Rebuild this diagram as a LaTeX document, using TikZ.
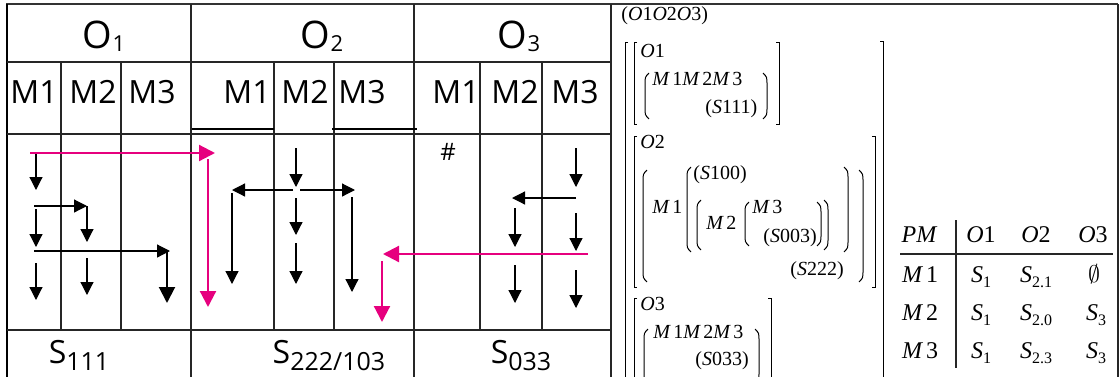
\documentclass[tikz,border=0pt]{standalone}
\usepackage{fontspec}
\usepackage{graphicx}
\usepackage{tikz}
\usetikzlibrary{arrows.meta}
\setmainfont{Liberation Serif}
\newfontfamily\osans{Open Sans}
\definecolor{pinkline}{RGB}{230,0,126}
\newcommand{\lowsub}[3]{\raisebox{#1}{\fontsize{#2}{#2}\selectfont #3}}
\newcommand{\vi}[1]{{\rmfamily\itshape #1}}
\newcommand{\lbrk}[3]{\draw[brk] ({#1+3},#2) -- (#1,#2) -- (#1,#3) -- ({#1+3},#3);}
\newcommand{\rbrk}[3]{\draw[brk] ({#1-3},#2) -- (#1,#2) -- (#1,#3) -- ({#1-3},#3);}
\newcommand{\lpar}[3]{\draw[brk] ({#1+4},#2) .. controls (#1,{#2+4}) .. (#1,{#2+12}) -- (#1,{#3-12}) .. controls (#1,{#3-4}) .. ({#1+4},#3);}
\newcommand{\rpar}[3]{\draw[brk] ({#1-4},#2) .. controls (#1,{#2+4}) .. (#1,{#2+12}) -- (#1,{#3-12}) .. controls (#1,{#3-4}) .. ({#1-4},#3);}
\tikzstyle{tabline} = [line width=0.6pt, black!85]
\tikzstyle{thickline} = [line width=1.4pt, black!80]
\tikzstyle{brk} = [line width=0.5pt]
\tikzstyle{blk} = [line width=0.6pt, -{Triangle[length=6.5pt,width=6.5pt]}]
\tikzstyle{blkbig} = [line width=1pt, -{Triangle[length=8pt,width=8pt]}]
\tikzstyle{mag} = [pinkline, line width=1.1pt, -{Triangle[length=8pt,width=8pt]}]
\tikzstyle{head} = [font=\osans\fontsize{19}{21}\selectfont, inner sep=0pt, anchor=base]
\tikzstyle{mlbl} = [font=\osans\fontsize{16}{18}\selectfont, inner sep=0pt, anchor=base]
\tikzstyle{mtx} = [font=\rmfamily\fontsize{10}{12}\selectfont, inner sep=0pt, anchor=base west]
\tikzstyle{pm} = [font=\rmfamily\fontsize{12}{14}\selectfont, inner sep=0pt, anchor=base]

\begin{document}
\begin{tikzpicture}[x=0.5pt,y=-0.5pt]
\useasboundingbox (0,0) rectangle (1120,376);
% frame
\draw[thickline] (6,4) -- (1118,4);
\draw[line width=1pt] (7,4) -- (7,380);
\draw[tabline] (1118,4) -- (1118,380);
\draw[tabline] (7,62) -- (611,62);
\draw[tabline] (7,134) -- (611,134);
\draw[tabline] (7,330) -- (611,330);
\foreach \cx in {191,414,611}
  \draw[tabline] (\cx,4) -- (\cx,380);
\foreach \cx in {61,121,274,334,480,542}
  \draw[tabline] (\cx,62) -- (\cx,330);
\draw[line width=1.2pt] (192,129) -- (274,129);
\draw[line width=1.2pt] (332,129) -- (417,129);
% headers
\node[head] (o1) at (104,48) {O\lowsub{-1.5pt}{11}{1}};
\node[head] (o2) at (322,48) {O\lowsub{-1.5pt}{11}{2}};
\node[head] (o3) at (519,48) {O\lowsub{-1.5pt}{11}{3}};
\node[mlbl] (a1) at (34,103) {M1};
\node[mlbl] (a2) at (93,103) {M2};
\node[mlbl] (a3) at (152,103) {M3};
\node[mlbl] (b1) at (247,103) {M1};
\node[mlbl] (b2) at (305,103) {M2};
\node[mlbl] (b3) at (362,103) {M3};
\node[mlbl] (c1) at (456,103) {M1};
\node[mlbl] (c2) at (515,103) {M2};
\node[mlbl] (c3) at (575,103) {M3};
\node[mlbl] (s1) at (79,363) {S\lowsub{-3.5pt}{12.5}{111}};
\node[mlbl] (s2) at (329,363) {S\lowsub{-3.5pt}{12.5}{222/103}};
\node[mlbl] (s3) at (521,363) {S\lowsub{-3.5pt}{12.5}{033}};
\node[font=\osans\fontsize{12}{14}\selectfont, inner sep=0pt] (hash) at (448,152) {\#};
% arrows O1
\draw[blk] (36,153) -- (36,190);
\draw[blk] (34,206) -- (87,206);
\draw[blk] (87,206) -- (87,242);
\draw[blk] (36,209) -- (36,247);
\draw[blk] (34,251) -- (170,251);
\draw[blkbig] (167,251) -- (167,303);
\draw[blk] (36,263) -- (36,300);
\draw[blk] (87,258) -- (87,295);
% arrows O2
\draw[blk] (296,148) -- (296,187);
\draw[blk] (293,190) -- (232,190);
\draw[blk] (300,190) -- (355,190);
\draw[blk] (232,193) -- (232,284);
\draw[blk] (352,197) -- (352,292);
\draw[blk] (296,198) -- (296,235);
\draw[blk] (296,243) -- (296,284);
% arrows O3
\draw[blk] (576,148) -- (576,187);
\draw[blk] (576,198) -- (512,198);
\draw[blk] (515,208) -- (515,247);
\draw[blk] (576,213) -- (576,251);
\draw[blk] (515,265) -- (515,303);
\draw[blk] (576,270) -- (576,308);
% magenta paths
\draw[mag] (30,153) -- (215,153);
\draw[mag] (208,159) -- (208,307);
\draw[mag] (588,254) -- (383,254);
\draw[mag] (382,261) -- (382,322);
% nested matrix
\node[mtx] (top) at (621,20) {(\vi{O}1\vi{O}2\vi{O}3)};
\lbrk{625}{42}{380} \rbrk{883}{41}{380}
\lbrk{634}{42}{124} \rbrk{779}{42}{124}
\lpar{645}{73}{119} \rpar{767}{73}{119}
\node[mtx] (mo1) at (640,57) {\vi{O}1};
\node[mtx] (mm1) at (652,85) {\vi{M}\,1\vi{M}\,2\vi{M}\,3};
\node[mtx] (ms1) at (705,113) {(\vi{S}111)};
\lbrk{634}{136}{287} \rbrk{875}{136}{287}
\lpar{643}{170}{282} \rpar{863}{170}{282}
\lpar{687}{167}{252} \rpar{848}{167}{252}
\lpar{697}{200}{250} \rpar{828}{200}{250}
\lpar{745}{202}{246} \rpar{821}{202}{246}
\node[mtx] (mo2) at (640,148) {\vi{O}2};
\node[mtx] (ms100) at (693,179) {(\vi{S}100)};
\node[mtx] (mx1) at (652,213) {\vi{M}\,1};
\node[mtx] (mx2) at (706,229) {\vi{M}\,2};
\node[mtx] (mx3) at (752,213) {\vi{M}\,3};
\node[mtx] (ms003) at (763,242) {(\vi{S}003)};
\node[mtx] (ms222) at (790,275) {(\vi{S}222)};
\lbrk{634}{298}{380} \rbrk{771}{298}{380}
\lpar{644}{329}{384} \rpar{759}{329}{384}
\node[mtx] (mo3) at (640,310) {\vi{O}3};
\node[mtx] (mm3) at (653,338) {\vi{M}\,1\vi{M}\,2\vi{M}\,3};
\node[mtx] (ms033) at (695,365) {(\vi{S}033)};
% PM table
\draw[tabline] (900,254) -- (1113,254);
\draw[tabline] (956,220) -- (956,368);
\node[pm] (pmh) at (919,242) {\vi{PM}};
\node[pm] (ph1) at (981,242) {\vi{O}1};
\node[pm] (ph2) at (1036,242) {\vi{O}2};
\node[pm] (ph3) at (1093,242) {\vi{O}3};
\node[pm] (r1) at (920,282) {\vi{M}\,1};
\node[pm] (r2) at (920,320) {\vi{M}\,2};
\node[pm] (r3) at (920,358) {\vi{M}\,3};
\node[pm] (p11) at (981,282) {\vi{S}\lowsub{-2.5pt}{8}{1}};
\node[pm] (p12) at (1036,282) {\vi{S}\lowsub{-2.5pt}{8}{2.1}};
\node[pm] (p13) at (1094,282) {$\emptyset$};
\node[pm] (p21) at (981,320) {\vi{S}\lowsub{-2.5pt}{8}{1}};
\node[pm] (p22) at (1036,320) {\vi{S}\lowsub{-2.5pt}{8}{2.0}};
\node[pm] (p23) at (1096,320) {\vi{S}\lowsub{-2.5pt}{8}{3}};
\node[pm] (p31) at (981,358) {\vi{S}\lowsub{-2.5pt}{8}{1}};
\node[pm] (p32) at (1036,358) {\vi{S}\lowsub{-2.5pt}{8}{2.3}};
\node[pm] (p33) at (1096,358) {\vi{S}\lowsub{-2.5pt}{8}{3}};
\end{tikzpicture}
\end{document}
